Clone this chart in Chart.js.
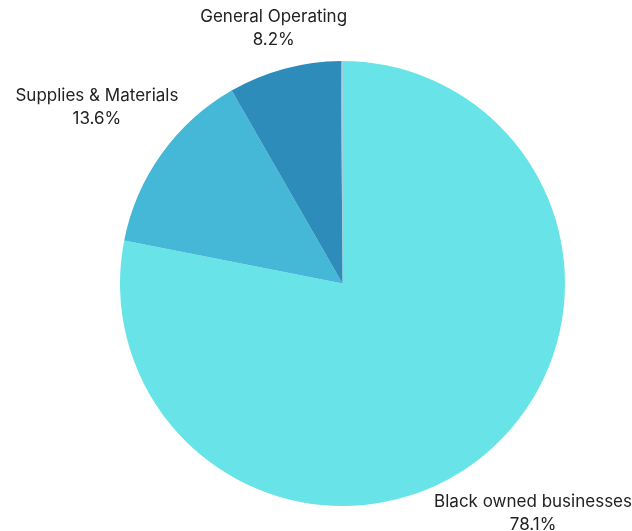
<!DOCTYPE html>
<html>
<head>
<meta charset="utf-8">
<script src="https://cdn.jsdelivr.net/npm/chart.js@4"></script>
<style>
  html, body { margin: 0; padding: 0; background: #ffffff; }
  #wrap { width: 632px; height: 531px; position: relative; }
</style>
</head>
<body>
<div id="wrap"><canvas id="chart"></canvas></div>
<script>
// Spending breakdown (percent of total)
const categories = ["Black owned businesses", "Supplies & Materials", "General Operating", "Other"];
const shares = [78.1, 13.6, 8.2, 0.1];
const sliceColors = ["#68e4e8", "#44b8d6", "#2e8cbb", "#a4a9c4"];
const showLabel = [true, true, true, false];

// Draws each category name and its share outside its slice,
// centred on the slice's middle ray and kept inside the canvas
const outsideLabels = {
  id: "outsideLabels",
  afterDatasetsDraw(chart, args, opts) {
    const ctx = chart.ctx;
    const meta = chart.getDatasetMeta(0);
    ctx.save();
    ctx.font = opts.font;
    ctx.fillStyle = opts.color;
    ctx.textAlign = "center";
    ctx.textBaseline = "middle";
    meta.data.forEach((arc, i) => {
      if (!showLabel[i]) return;
      const mid = (arc.startAngle + arc.endAngle) / 2;
      const dx = Math.cos(mid), dy = Math.sin(mid);
      const lines = [categories[i], shares[i].toFixed(1) + "%"];
      const w = Math.max(...lines.map(l => ctx.measureText(l).width));
      const h = lines.length * opts.lineHeight;
      const dist = arc.outerRadius + opts.offset + Math.abs(dx) * w / 2 + Math.abs(dy) * h / 2;
      let cx = arc.x + dx * dist;
      let cy = arc.y + dy * dist;
      const m = opts.edgeSlack;
      cx = Math.min(Math.max(cx, w / 2), chart.width - w / 2);
      cy = Math.min(Math.max(cy, h / 2 - m), chart.height - h / 2 + m);
      lines.forEach((l, k) => {
        ctx.fillText(l, cx, cy - h / 2 + opts.lineHeight * (k + 0.5));
      });
    });
    ctx.restore();
  }
};

new Chart(document.getElementById("chart"), {
  type: "pie",
  data: {
    labels: categories,
    datasets: [{
      data: shares,
      backgroundColor: sliceColors,
      borderWidth: 0
    }]
  },
  options: {
    responsive: true,
    maintainAspectRatio: false,
    animation: false,
    layout: { padding: { top: 61, bottom: 25, left: 120, right: 67 } },
    plugins: {
      legend: { display: false },
      tooltip: { enabled: false },
      outsideLabels: {
        font: "17px Inter, 'DejaVu Sans', sans-serif",
        color: "#222222",
        lineHeight: 23,
        offset: 0,
        edgeSlack: 5
      }
    }
  },
  plugins: [outsideLabels]
});
</script>
</body>
</html>
